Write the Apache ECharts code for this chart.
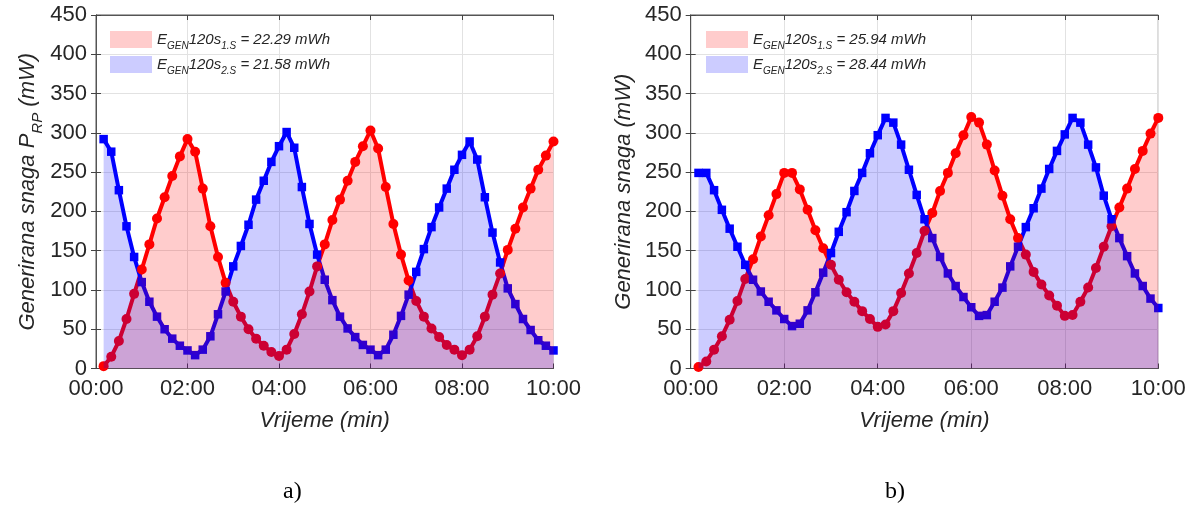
<!DOCTYPE html>
<html><head><meta charset="utf-8">
<script src="https://cdn.jsdelivr.net/npm/echarts@6/dist/echarts.min.js"></script>
<style>html,body{margin:0;padding:0;background:#fff}#c{width:1193px;height:506px}</style>
</head><body><div id="c"></div>
<script>
// time in seconds
const timeSec = [10,20,30,40,50,60,70,80,90,100,110,120,130,140,150,160,170,180,190,200,210,220,230,240,250,260,270,280,290,300,
  310,320,330,340,350,360,370,380,390,400,410,420,430,440,450,460,470,480,490,500,510,520,530,540,550,560,570,580,590,600];
const xTickLabels = ['00:00','02:00','04:00','06:00','08:00','10:00'];
// panel a) power (mW)
const powerA1 = [3,15,35,63,95,126,158,191,218,245,270,292, 276,229,181,142,109,85,66,50,38,29,21,16,
  24,44,69,98,130,158,189,215,239,263,283,303, 280,231,184,145,112,86,66,51,40,30,24,17,
  24,41,66,94,121,151,178,205,229,253,271,289];
const powerA2 = [292,276,227,181,142,110,85,66,50,38,29,23, 17,24,41,69,98,130,156,183,215,239,263,283,
  301,281,231,184,145,113,87,66,51,40,30,24, 17,24,43,67,94,123,152,180,205,229,253,272,
  289,266,218,173,135,102,82,63,49,36,29,23];
// panel b) power (mW)
const powerB1 = [2,9,24,41,62,86,114,139,168,195,222,249, 249,228,202,176,153,132,113,97,85,73,63,53,
  56,73,96,121,147,175,198,226,249,274,297,320, 313,285,252,220,190,166,145,123,107,93,80,67,
  68,85,103,128,155,181,205,229,254,277,299,319];
const powerB2 = [249,249,227,202,178,155,132,113,98,85,74,63, 54,57,74,97,122,147,174,199,226,249,274,297,
  319,313,285,253,221,190,166,142,121,105,91,78, 67,68,85,103,130,155,180,204,229,254,277,298,
  319,313,285,256,220,190,166,143,121,105,89,77];
const energyA = ['22.29','21.58'];
const energyB = ['25.94','28.44'];
const captions = ['a)','b)'];

const FONT = '"Liberation Sans", Arial, sans-serif';
const TXT = '#262626';
const RED = '#ff0000', BLUE = '#0000ff';
const RED_FILL = 'rgba(255,0,0,0.2)', BLUE_FILL = 'rgba(0,0,255,0.2)';

function pairs(arr){ return arr.map((v,i)=>[timeSec[i], v]); }

const grids = [
  {left:96, right:639.5, top:15, bottom:137.5},
  {left:690.7, right:34.7, top:15, bottom:137.5}
];

function xAx(gi, top){
  return {
    type:'value', gridIndex:gi, min:0, max:600, interval:120,
    position: top ? 'top' : 'bottom',
    name: top ? '' : 'Vrijeme (min)', nameLocation:'middle', nameGap:41,
    nameTextStyle:{fontFamily:FONT, fontSize:22, fontStyle:'italic', color:TXT},
    axisLine:{show:true, onZero:false, lineStyle:{color:'#555', width:1}},
    axisTick:{show:true, inside:true, length:5, lineStyle:{color:'#444'}},
    axisLabel:{show:!top, margin:9, fontFamily:FONT, fontSize:22, color:TXT,
      formatter:(v)=>xTickLabels[Math.round(v/120)] || ''},
    splitLine:{show:!top, lineStyle:{color:'#e2e2e2', width:1}}
  };
}
function yAx(gi, right, name, gap){
  return {
    type:'value', gridIndex:gi, min:0, max:450, interval:50,
    position: right ? 'right' : 'left',
    name: right ? '' : name, nameLocation:'middle', nameGap:gap, nameRotate:90,
    nameTextStyle:{fontFamily:FONT, fontSize:22, fontStyle:'italic', color:TXT,
      rich:{
        n:{fontFamily:FONT, fontSize:22, fontStyle:'italic', color:TXT, lineHeight:28, verticalAlign:'middle'},
        s:{fontFamily:FONT, fontSize:15, fontStyle:'italic', color:TXT, lineHeight:34, verticalAlign:'bottom'}
      }},
    axisLine:{show:true, lineStyle:{color:'#555', width:1}},
    axisTick:{show:true, inside:true, length:5, lineStyle:{color:'#444'}},
    axisLabel:{show:!right, margin:9, fontFamily:FONT, fontSize:22, color:TXT},
    splitLine:{show:!right, lineStyle:{color:'#e2e2e2', width:1}}
  };
}

function lineSeries(name, data, xi, yi, color, symbol, size){
  return {type:'line', name:name, xAxisIndex:xi, yAxisIndex:yi, data:pairs(data),
    z:2, symbol:symbol, symbolSize:size, showSymbol:true, showAllSymbol:true,
    lineStyle:{color:color, width:4}, itemStyle:{color:color, borderWidth:0},
    animation:false, silent:true};
}
function areaSeries(name, data, xi, yi, fill){
  return {type:'line', name:name, xAxisIndex:xi, yAxisIndex:yi, data:pairs(data),
    z:3, symbol:'none', showSymbol:false,
    lineStyle:{width:0, opacity:0}, itemStyle:{color:fill},
    areaStyle:{color:fill, opacity:1, origin:'start'},
    animation:false, silent:true};
}

function legendFmt(name){
  const k = +name[1];
  const e = (name[0]==='A' ? energyA : energyB)[k-1];
  return '{i|E}{s|GEN}{i|120s}{s|' + k + '.S}{i| = ' + e + ' mWh}';
}
const legRich = {
  i:{fontFamily:FONT, fontSize:15, fontStyle:'italic', color:TXT, lineHeight:18, verticalAlign:'middle'},
  s:{fontFamily:FONT, fontSize:10, fontStyle:'italic', color:TXT, lineHeight:23, verticalAlign:'bottom'}
};
function legend(left, names){
  return {
    left:left, top:31, orient:'vertical', padding:0, itemGap:5,
    itemWidth:42, itemHeight:17, selectedMode:false,
    data:[
      {name:names[0], icon:'rect', itemStyle:{color:RED_FILL, borderWidth:0}},
      {name:names[1], icon:'rect', itemStyle:{color:BLUE_FILL, borderWidth:0}}
    ],
    formatter:legendFmt,
    textStyle:{fontFamily:FONT, fontSize:15, fontStyle:'italic', color:TXT, rich:legRich}
  };
}

const chart = echarts.init(document.getElementById('c'), null, {renderer:'canvas'});
chart.setOption({
  animation:false,
  backgroundColor:'#fff',
  grid: grids.map(g=>Object.assign({show:true, borderColor:'#555', borderWidth:1, backgroundColor:'transparent'}, g)),
  xAxis:[xAx(0,false), xAx(0,true), xAx(1,false), xAx(1,true)],
  yAxis:[yAx(0,false,'Generirana snaga {n|P}{s|RP}{n| (mW)}', 51), yAx(0,true,'',0),
         yAx(1,false,'Generirana snaga (mW)', 56), yAx(1,true,'',0)],
  legend:[legend(110,['A1','A2']), legend(706,['B1','B2'])],
  series:[
    lineSeries('la1', powerA1, 0, 0, RED, 'circle', 10),
    lineSeries('la2', powerA2, 0, 0, BLUE, 'rect', 8.5),
    areaSeries('A1', powerA1, 0, 0, RED_FILL),
    areaSeries('A2', powerA2, 0, 0, BLUE_FILL),
    lineSeries('lb1', powerB1, 2, 2, RED, 'circle', 10),
    lineSeries('lb2', powerB2, 2, 2, BLUE, 'rect', 8.5),
    areaSeries('B1', powerB1, 2, 2, RED_FILL),
    areaSeries('B2', powerB2, 2, 2, BLUE_FILL)
  ],
  graphic:[
    {type:'text', left:283, top:480, style:{text:captions[0], font:'24px "Liberation Serif", "Times New Roman", serif', fill:'#000'}},
    {type:'text', left:885, top:480, style:{text:captions[1], font:'24px "Liberation Serif", "Times New Roman", serif', fill:'#000'}}
  ]
});
</script></body></html>
